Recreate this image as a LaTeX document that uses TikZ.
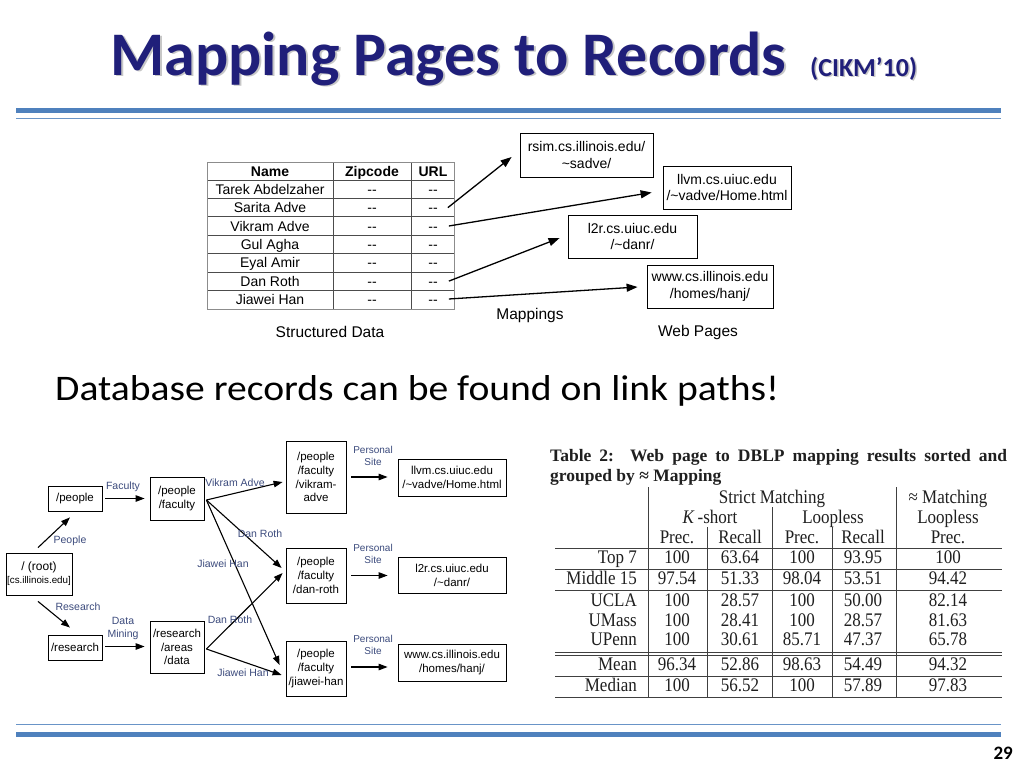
\documentclass[tikz,border=0pt]{standalone}
\usepackage{fontspec}
\usepackage{graphicx}
\setmainfont{Liberation Sans}
\newfontfamily\calfont{Carlito}
\newfontfamily\tmsfont{Liberation Serif}
\usetikzlibrary{arrows.meta,calc}
\definecolor{navy}{RGB}{32,31,122}
\definecolor{barblue}{RGB}{79,129,189}
\definecolor{lblue}{RGB}{60,75,125}
\newcommand{\tallrow}[1]{\scalebox{1}[1.13]{#1}}
\begin{document}
\begin{tikzpicture}[x=1pt,y=-1pt,
  box/.style={draw=black, line width=0.8pt, inner sep=0pt, align=center},
  webbox/.style={box, font=\fontsize{14}{16.5}\selectfont},
  gbox/.style={box, font=\fontsize{11.5}{13.8}\selectfont},
  conn/.style={line width=1.3pt, -{Triangle[length=11pt,width=8pt]}},
  gconn/.style={line width=1.1pt, -{Triangle[length=9pt,width=6.5pt]}},
  lab/.style={text=lblue, font=\fontsize{10.5}{12.5}\selectfont, inner sep=0pt, align=center},
  tcell/.style={font=\fontsize{14}{16}\selectfont, inner sep=0pt, anchor=base},
  rcell/.style={font=\tmsfont\fontsize{17}{19}\selectfont, text=black!88, inner sep=0pt, anchor=base},
  rline/.style={draw=black!75, line width=0.9pt},
  plain/.style={inner sep=0pt}
]
\useasboundingbox (0,0) rectangle (1024,768);
\fill[white] (0,0) rectangle (1024,768);

% ---------- title ----------
\node[plain, anchor=base west, text=black!22, font=\calfont\bfseries\fontsize{62}{70}\selectfont] (titleshadow) at (112,77) {Mapping Pages to Records};
\node[plain, anchor=base west, text=navy, font=\calfont\bfseries\fontsize{62}{70}\selectfont] (title) at (110,75) {Mapping Pages to Records};
\node[plain, anchor=base west, text=black!22, font=\calfont\bfseries\fontsize{26}{30}\selectfont] (cikmshadow) at (811.5,77.5) {(CIKM’10)};
\node[plain, anchor=base west, text=navy, font=\calfont\bfseries\fontsize{26}{30}\selectfont] (cikm) at (810,76) {(CIKM’10)};

\fill[barblue] (16,108) rectangle (1001,113);
\draw[barblue!85, line width=1.5pt] (16,118.5) -- (1001,118.5);
\draw[barblue!85, line width=1.5pt] (16,724.5) -- (1001,724.5);
\fill[barblue] (16,732) rectangle (1001,736.5);
\node[plain, anchor=base east, font=\calfont\bfseries\fontsize{19}{20}\selectfont] (pg) at (1013,759) {29};

% ---------- top table ----------
\foreach \y in {180,198.4,216.8,235.1,253.5,271.9,290.3}
  \draw[black!70, line width=0.7pt] (207,\y) -- (454,\y);
\draw[black!70, line width=0.7pt] (333,162) -- (333,309);
\draw[black!70, line width=0.7pt] (411,162) -- (411,309);
\draw[black!45, line width=0.8pt] (207,162) rectangle (454,309);
\node[tcell, font=\bfseries\fontsize{14}{16}\selectfont] (hname) at (270,176) {Name};
\node[tcell, font=\bfseries\fontsize{14}{16}\selectfont] (hzip) at (372,176) {Zipcode};
\node[tcell, font=\bfseries\fontsize{14}{16}\selectfont] (hurl) at (433,176) {URL};
\foreach \nm [count=\i] in {Tarek Abdelzaher,Sarita Adve,Vikram Adve,Gul Agha,Eyal Amir,Dan Roth,Jiawei Han}{
  \node[tcell] (n\i) at (270,{176+18.375*\i}) {\nm};
  \node[tcell] (z\i) at (372,{176+18.375*\i}) {-{}-};
  \node[tcell] (u\i) at (433,{176+18.375*\i}) {-{}-};
}
\node[plain, font=\fontsize{15.5}{18}\selectfont] (sd) at (330,332) {Structured Data};
\node[plain, font=\fontsize{15.5}{18}\selectfont] (mp) at (530,315) {Mappings};
\node[plain, font=\fontsize{15.5}{18}\selectfont] (wp) at (698,332) {Web Pages};

\node[webbox, minimum width=133pt, minimum height=44pt] (rsim) at (586.5,155) {rsim.cs.illinois.edu/\\\textasciitilde sadve/};
\node[webbox, minimum width=128pt, minimum height=43pt] (llvm) at (727,187.5) {llvm.cs.uiuc.edu\\/\textasciitilde vadve/Home.html};
\node[webbox, minimum width=129pt, minimum height=43pt] (l2r) at (632.5,236.5) {l2r.cs.uiuc.edu\\/\textasciitilde danr/};
\node[webbox, minimum width=126pt, minimum height=43pt] (www) at (710,286.5) {www.cs.illinois.edu\\/homes/hanj/};

\draw[conn] ($(u2.east)+(10,-3)$) -- ($(rsim.west)+(-8,2)$);
\draw[conn] ($(u3.east)+(11,-3)$) -- ($(llvm.west)+(-11,5)$);
\draw[conn] ($(u6.east)+(11,-3)$) -- ($(l2r.west)+(-8,1.5)$);
\draw[conn] ($(u7.east)+(11,-3.5)$) -- ($(www.west)+(-9,0.5)$);

% ---------- middle text ----------
\node[plain, anchor=base west, font=\calfont\fontsize{36}{40}\selectfont] (claim) at (55,400) {\scalebox{1.1}[1]{Database records can be found on link paths!}};

% ---------- bottom-left graph ----------
\node[gbox, minimum width=66pt, minimum height=42pt] (root) at (39,574) {\fontsize{12}{14}\selectfont / (root)\\[-1pt]\fontsize{9.8}{12}\selectfont [cs.illinois.edu]};
\node[gbox, minimum width=54pt, minimum height=25pt] (people) at (75,498.5) {/people};
\node[gbox, minimum width=54pt, minimum height=43pt] (pf) at (177,498.5) {/people\\/faculty};
\node[gbox, minimum width=54pt, minimum height=25pt] (research) at (75,647.5) {/research};
\node[gbox, minimum width=54pt, minimum height=52pt] (rad) at (177,647) {/research\\/areas\\/data};
\node[gbox, minimum width=60pt, minimum height=72pt] (vik) at (316,477) {/people\\/faculty\\/vikram-\\adve};
\node[gbox, minimum width=60pt, minimum height=55pt] (dan) at (316,575.5) {/people\\/faculty\\/dan-roth};
\node[gbox, minimum width=60pt, minimum height=55pt] (jia) at (316,668.5) {/people\\/faculty\\/jiawei-han};
\node[gbox, minimum width=108pt, minimum height=37pt] (llvmb) at (452,477.5) {llvm.cs.uiuc.edu\\/\textasciitilde vadve/Home.html};
\node[gbox, minimum width=108pt, minimum height=36pt] (l2rb) at (452,575) {l2r.cs.uiuc.edu\\/\textasciitilde danr/};
\node[gbox, minimum width=108pt, minimum height=37pt] (wwwb) at (452,662.5) {www.cs.illinois.edu\\/homes/hanj/};

\coordinate (pfo) at ($(pf.east)+(2,1.5)$);
\coordinate (rado) at ($(rad.east)+(2,2)$);

\draw[gconn] ($(root.north)+(-1,-5)$) -- ($(people.south)+(-5,6)$);
\draw[gconn] ($(root.south)+(-1,6)$) -- ($(research.north)+(-5,-7)$);
\draw[gconn, shorten <=3pt, shorten >=5pt] (people.east) -- (people.east -| pf.west);
\draw[gconn, shorten <=3pt, shorten >=5pt] ($(research.east)+(0,-1)$) -- ($(research.east -| rad.west)+(0,-1)$);
\draw[gconn] (pfo) -- ($(vik.west)+(-3,5)$);
\draw[gconn] (pfo) -- ($(dan.west)+(-4,-7.5)$);
\draw[gconn] (pfo) -- ($(jia.west)+(-6,-3.5)$);
\draw[gconn] (rado) -- ($(dan.west)+(-3,-2.5)$);
\draw[gconn] (rado) -- ($(jia.west)+(-4,6.5)$);
\draw[gconn, shorten <=5pt, shorten >=10pt] (vik.east) -- (vik.east -| llvmb.west);
\draw[gconn, shorten <=5pt, shorten >=10pt] (dan.east) -- (dan.east -| l2rb.west);
\draw[gconn, shorten <=5pt, shorten >=10pt] ($(jia.east)+(0,-1.5)$) -- ($(jia.east -| wwwb.west)+(0,-1.5)$);

\node[lab] (lfac) at (123,487) {Faculty};
\node[lab] (lpeo) at (70,541) {People};
\node[lab] (lres) at (78,607) {Research};
\node[lab] (ldm) at (123,628.5) {Data\\Mining};
\node[lab] (lva) at (235,483) {Vikram Adve};
\node[lab] (ldr1) at (260,534) {Dan Roth};
\node[lab] (ljh1) at (223,564) {Jiawei Han};
\node[lab] (ldr2) at (230,620) {Dan Roth};
\node[lab] (ljh2) at (243,673) {Jiawei Han};
\node[lab, font=\fontsize{10}{12}\selectfont] (ps1) at (373,456) {Personal\\Site};
\node[lab, font=\fontsize{10}{12}\selectfont] (ps2) at (373,553.5) {Personal\\Site};
\node[lab, font=\fontsize{10}{12}\selectfont] (ps3) at (373,645) {Personal\\Site};

% ---------- right table ----------
\node[anchor=north west, text width=457pt, align=justify, inner sep=0pt, text=black!88,
      font=\tmsfont\bfseries\fontsize{17.5}{20}\selectfont] (cap) at (550,449)
  {Table 2:\ \ Web page to DBLP mapping results sorted and\linebreak grouped by ≈ Mapping};

\foreach \y in {548,569,590,652,655,676,697}
  \draw[rline] (555,\y) -- (1002,\y);
\draw[rline] (648,487) -- (648,697);
\draw[rline] (896,487) -- (896,697);
\draw[rline] (772,507) -- (772,697);
\draw[rline] (707,527) -- (707,697);
\draw[rline] (832,527) -- (832,697);

\node[rcell] (hstrict) at (772,503) {\tallrow{Strict Matching}};
\node[rcell] (happrox) at (948,503) {\tallrow{≈ Matching}};
\node[rcell] (hks) at (710,523) {\tallrow{\textit{K}\,-short}};
\node[rcell] (hlp1) at (833,523) {\tallrow{Loopless}};
\node[rcell] (hlp2) at (948,523) {\tallrow{Loopless}};
\node[rcell] (hp1) at (677,543) {\tallrow{Prec.}};
\node[rcell] (hr1) at (740,543) {\tallrow{Recall}};
\node[rcell] (hp2) at (802,543) {\tallrow{Prec.}};
\node[rcell] (hr2) at (863,543) {\tallrow{Recall}};
\node[rcell] (hp3) at (948,543) {\tallrow{Prec.}};

\foreach \lab/\a/\b/\c/\d/\e/\y [count=\i] in {
  Top 7/100/63.64/100/93.95/100/563,
  Middle 15/97.54/51.33/98.04/53.51/94.42/584,
  UCLA/100/28.57/100/50.00/82.14/606,
  UMass/100/28.41/100/28.57/81.63/626,
  UPenn/100/30.61/85.71/47.37/65.78/645,
  Mean/96.34/52.86/98.63/54.49/94.32/670,
  Median/100/56.52/100/57.89/97.83/691}{
  \node[rcell, anchor=base east] (rl\i) at (637,\y) {\tallrow{\lab}};
  \node[rcell] (ra\i) at (677,\y) {\tallrow{\a}};
  \node[rcell] (rb\i) at (740,\y) {\tallrow{\b}};
  \node[rcell] (rc\i) at (802,\y) {\tallrow{\c}};
  \node[rcell] (rd\i) at (863,\y) {\tallrow{\d}};
  \node[rcell] (re\i) at (948,\y) {\tallrow{\e}};
}
\end{tikzpicture}
\end{document}
